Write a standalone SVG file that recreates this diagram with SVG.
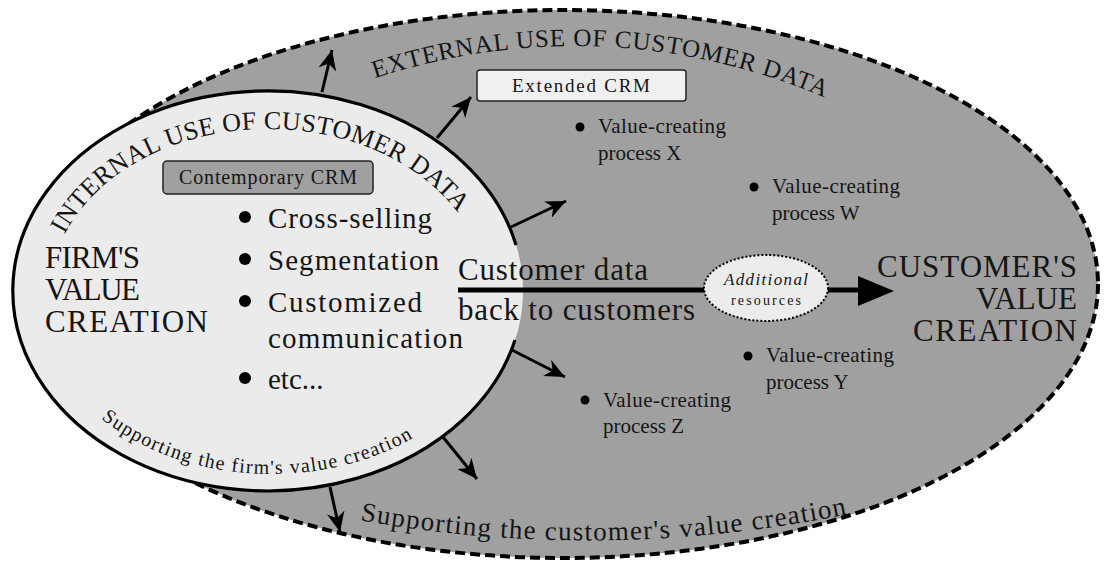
<svg xmlns="http://www.w3.org/2000/svg" width="1106" height="564" viewBox="0 0 1106 564">
<style>
.t{font-family:"Liberation Serif","DejaVu Serif",serif;fill:#151515}
.big{font-size:31px}
.list{font-size:29px}
.proc{font-size:21px}
.arrow{stroke:#000;stroke-width:3;fill:none;marker-end:url(#head)}
.dot{fill:#000}
</style>
<defs>
<marker id="head" markerUnits="userSpaceOnUse" markerWidth="22" markerHeight="18" refX="20" refY="9" orient="auto">
<path d="M0,0 L20,9 L0,18 L6,9 Z" fill="#000"/>
</marker>
<path id="pInternal" d="M62,240 A218,165 0 0 1 474,240"/>
<path id="pExternal" d="M370,80 A633,633 0 0 1 830,100"/>
<path id="pFirm" d="M98,416 A237,182 0 0 0 445,416"/>
<path id="pCust" d="M358,520 A1300,1300 0 0 0 858,512"/>
</defs>

<g id="customer-value-area">
<ellipse cx="563" cy="284" rx="535" ry="274" fill="#a0a0a0" stroke="#000" stroke-width="4" stroke-dasharray="10 5"/>
</g>

<g id="firm-value-area">
<ellipse cx="268" cy="291" rx="255" ry="200" fill="#ebebeb"/>
</g>

<g id="connectors">
<line x1="458" y1="290" x2="862" y2="290" stroke="#000" stroke-width="5"/>
<polygon points="858,276 894,291 858,306" fill="#000"/>
<line class="arrow" x1="322" y1="92" x2="332" y2="50"/>
<line class="arrow" x1="437" y1="138" x2="471" y2="97"/>
<line class="arrow" x1="511" y1="227" x2="566" y2="201"/>
<line class="arrow" x1="512" y1="350" x2="565" y2="377"/>
<line class="arrow" x1="443" y1="437" x2="477" y2="479"/>
<line class="arrow" x1="330" y1="487" x2="340" y2="532"/>
</g>

<g id="firm-border">
<path d="M516,245 A255,200 0 1 0 515,340" fill="none" stroke="#000" stroke-width="3.2"/>
</g>

<g id="additional-resources">
<ellipse cx="766" cy="288" rx="62" ry="33" fill="#ececec" stroke="#000" stroke-width="2" stroke-dasharray="2 2"/>
<text class="t" x="766" y="285" text-anchor="middle" font-size="17" font-style="italic" textLength="84">Additional</text>
<text class="t" x="766" y="305" text-anchor="middle" font-size="14" textLength="70">resources</text>
</g>

<g id="firm-label">
<text class="t big" x="45" y="268" textLength="95">FIRM'S</text>
<text class="t big" x="45" y="300" textLength="95">VALUE</text>
<text class="t big" x="45" y="332" textLength="163">CREATION</text>
</g>

<g id="customer-label">
<text class="t big" x="1077" y="277" text-anchor="end" textLength="200">CUSTOMER'S</text>
<text class="t big" x="1077" y="309" text-anchor="end">VALUE</text>
<text class="t big" x="1077" y="341" text-anchor="end" textLength="164">CREATION</text>
</g>

<g id="contemporary-crm">
<rect x="163" y="161" width="210" height="33" rx="4" fill="#a0a0a0" stroke="#222" stroke-width="1.5"/>
<text class="t" x="268" y="184" text-anchor="middle" font-size="20" textLength="178">Contemporary CRM</text>
</g>

<g id="extended-crm">
<rect x="477" y="70" width="209" height="31" rx="3" fill="#f0f0f0" stroke="#222" stroke-width="1.5"/>
<text class="t" x="581" y="92" text-anchor="middle" font-size="19" textLength="138">Extended CRM</text>
</g>

<g id="internal-uses">
<circle class="dot" cx="245" cy="217" r="6"/>
<text class="t list" x="268" y="228" textLength="164">Cross-selling</text>
<circle class="dot" cx="245" cy="259" r="6"/>
<text class="t list" x="268" y="270" textLength="171">Segmentation</text>
<circle class="dot" cx="245" cy="301" r="6"/>
<text class="t list" x="268" y="312" textLength="154">Customized</text>
<text class="t list" x="268" y="348" textLength="195">communication</text>
<circle class="dot" cx="245" cy="378" r="6"/>
<text class="t list" x="268" y="389">etc...</text>
</g>

<g id="data-flow-label">
<text class="t" x="458" y="280" font-size="31" textLength="190">Customer data</text>
<text class="t" x="458" y="320" font-size="31" textLength="237">back to customers</text>
</g>

<g id="process-x">
<circle class="dot" cx="580" cy="127" r="4.5"/>
<text class="t proc" x="598" y="133" textLength="128">Value-creating</text>
<text class="t proc" x="598" y="160">process X</text>
</g>
<g id="process-w">
<circle class="dot" cx="754" cy="187" r="4.5"/>
<text class="t proc" x="772" y="193" textLength="128">Value-creating</text>
<text class="t proc" x="772" y="220">process W</text>
</g>
<g id="process-y">
<circle class="dot" cx="748" cy="356" r="4.5"/>
<text class="t proc" x="766" y="362" textLength="128">Value-creating</text>
<text class="t proc" x="766" y="389">process Y</text>
</g>
<g id="process-z">
<circle class="dot" cx="585" cy="400" r="4.5"/>
<text class="t proc" x="603" y="407" textLength="128">Value-creating</text>
<text class="t proc" x="603" y="433">process Z</text>
</g>

<g id="curved-labels">
<text class="t" font-size="26"><textPath href="#pInternal" startOffset="6" textLength="455">INTERNAL USE OF CUSTOMER DATA</textPath></text>
<text class="t" font-size="25"><textPath href="#pExternal" startOffset="5" textLength="460">EXTERNAL USE OF CUSTOMER DATA</textPath></text>
<text class="t" font-size="20"><textPath href="#pFirm" startOffset="4" textLength="330">Supporting the firm's value creation</textPath></text>
<text class="t" font-size="27"><textPath href="#pCust" startOffset="2" textLength="490">Supporting the customer's value creation</textPath></text>
</g>
</svg>
